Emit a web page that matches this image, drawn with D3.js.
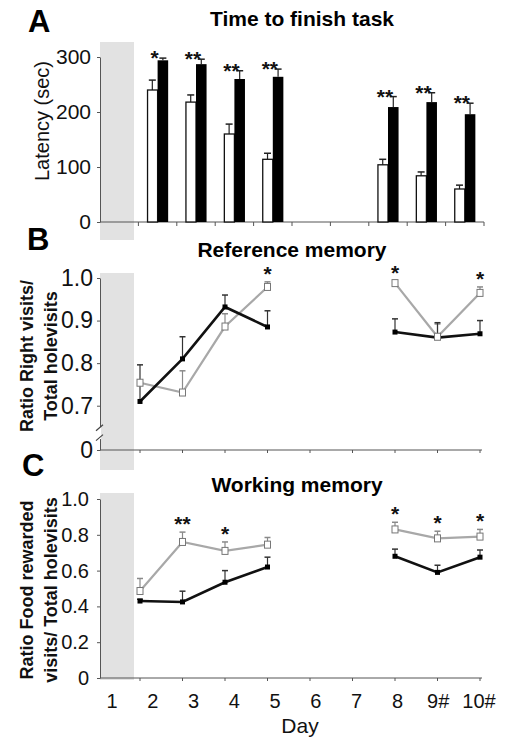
<!DOCTYPE html>
<html><head><meta charset="utf-8">
<script src="https://cdn.jsdelivr.net/npm/d3@7"></script>
<style>body{margin:0;background:#fff}svg{display:block;font-family:"Liberation Sans",Arial,sans-serif}</style>
</head><body><svg id="c" width="505" height="742"></svg>
<script>
// ---------- data ----------
const allDays = [1,2,3,4,5,6,7,8,9,10];
const dayLabels = ["1","2","3","4","5","6","7","8","9#","10#"];
const days = [2,3,4,5,8,9,10];

// Panel A: latency (sec)
const latWhite    = [240,218,160,114,104,84,60];
const latWhiteErr = [18,13,18,11,10,7,7];
const latBlack    = [294,287,260,264,209,218,196];
const latBlackErr = [4,9,15,14,19,17,20];
const sigA        = ["*","**","**","**","**","**","**"];
const ticksA      = [0,100,200,300];

// Panel B: reference memory
const refGray     = [0.754,0.731,0.886,0.979,0.988,0.862,0.965];
const refGrayErr  = [0,0.051,0.03,0.012,0.004,0.03,0.014];
const refBlack    = [0.71,0.81,0.932,0.885,0.873,0.86,0.869];
const refBlackErr = [0.086,0.052,0.028,0.038,0.031,0.035,0.031];
const sigB        = ["","","","*","*","","*"];
const ticksB      = [0,0.7,0.8,0.9,1.0];

// Panel C: working memory
const wmGray      = [0.486,0.76,0.71,0.745,0.83,0.78,0.79];
const wmGrayErr   = [0.07,0.055,0.05,0.04,0.04,0.04,0.04];
const wmBlack     = [0.43,0.425,0.535,0.62,0.68,0.59,0.675];
const wmBlackErr  = [0.01,0.06,0.065,0.055,0.04,0.04,0.04];
const sigC        = ["","**","*","","*","*","*"];
const ticksC      = [0,0.2,0.4,0.6,0.8,1.0];

// ---------- drawing ----------
const svg = d3.select("#c");
const SHADE = "#e2e2e2";
const fmt = v => v === 0 ? "0" : d3.format(".1f")(v);

function errBar(g, x, y0, y1, color, cap){
  g.append("line").attr("x1",x).attr("x2",x).attr("y1",y0).attr("y2",y1).attr("stroke",color).attr("stroke-width",1.2);
  g.append("line").attr("x1",x-cap).attr("x2",x+cap).attr("y1",y1).attr("y2",y1).attr("stroke",color).attr("stroke-width",1.5);
}

// ===== Panel A =====
const xA = d3.scaleBand().domain(allDays).range([100,484]).paddingInner(0.45).paddingOuter(0.225);
const xSub = d3.scaleBand().domain(["w","b"]).range([0, xA.bandwidth()]);
const yA = d3.scaleLinear().domain([0,300]).range([222,57]);

svg.append("rect").attr("x",xA.range()[0]).attr("y",42).attr("width",34).attr("height",198).attr("fill",SHADE);

const gA = svg.append("g");
const axA = gA.append("g").attr("transform","translate(100,0)")
  .call(d3.axisLeft(yA).tickValues(ticksA).tickSize(3).tickSizeOuter(0).tickPadding(6));
axA.selectAll("text").attr("font-size",21).attr("fill","#111");
axA.selectAll("line,path").attr("stroke","#555");
gA.append("line").attr("x1",100).attr("x2",484).attr("y1",yA(0)).attr("y2",yA(0)).attr("stroke","#555");
const gapA = (xA.step()-xA.bandwidth())/2;
gA.selectAll(".tA").data(allDays.slice(1)).join("line")
  .attr("x1",d=>xA(d)-gapA).attr("x2",d=>xA(d)-gapA)
  .attr("y1",yA(0)).attr("y2",yA(0)+4).attr("stroke","#555");
gA.append("line").attr("x1",484).attr("x2",484).attr("y1",yA(0)).attr("y2",yA(0)+4).attr("stroke","#555");

const barsData = days.map((d,i)=>({d, w:latWhite[i], we:latWhiteErr[i], b:latBlack[i], be:latBlackErr[i], s:sigA[i]}));
const grpA = gA.selectAll(".grp").data(barsData).join("g").attr("transform",d=>`translate(${xA(d.d)},0)`);
grpA.each(function(d){
  const g = d3.select(this);
  const bw = xSub.bandwidth();
  errBar(g, xSub("w")+bw/2, yA(d.w), yA(d.w+d.we), "#222", 3.5);
  errBar(g, xSub("b")+bw/2, yA(d.b), yA(d.b+d.be), "#222", 3.5);
  g.append("rect").attr("x",xSub("w")+0.5).attr("y",yA(d.w)).attr("width",bw-0.5).attr("height",yA(0)-yA(d.w))
    .attr("fill","#fff").attr("stroke","#111").attr("stroke-width",1.3);
  g.append("rect").attr("x",xSub("b")).attr("y",yA(d.b)).attr("width",bw).attr("height",yA(0)-yA(d.b))
    .attr("fill","#000");
  g.append("text").attr("x",xA.bandwidth()/2-3).attr("y",yA(Math.max(d.b+d.be,d.w+d.we))+7)
    .attr("text-anchor","middle").attr("font-size",21).attr("font-weight","bold").attr("fill","#111").text(d.s);
});

svg.append("text").attr("x",28).attr("y",32).attr("font-size",31).attr("font-weight","bold").text("A");
svg.append("text").attr("x",302).attr("y",26).attr("text-anchor","middle").attr("font-size",21).attr("font-weight","bold").text("Time to finish task");
svg.append("text").attr("transform","translate(49,121) rotate(-90)").attr("text-anchor","middle")
  .attr("font-size",20).attr("fill","#111").text("Latency (sec)");

// ===== shared line-panel x scale =====
const xL = d3.scaleLinear().domain([2,10]).range([140,480]);
const xLab = d3.scalePoint().domain(dayLabels).range([112,479]);

function linePanel(opt){
  const {y, ticks, gray, grayErr, black, blackErr, sig, fontSize, axisBottom, shadeTop, shadeBottom, labelPad} = opt;
  const g = svg.append("g");
  g.append("rect").attr("x",100).attr("y",shadeTop).attr("width",34).attr("height",shadeBottom-shadeTop).attr("fill",SHADE);
  const ax = g.append("g").attr("transform","translate(100,0)")
    .call(d3.axisLeft(y).tickValues(ticks).tickFormat(fmt).tickSize(3).tickSizeOuter(0).tickPadding(labelPad));
  ax.selectAll("text").attr("font-size",fontSize).attr("fill","#111");
  ax.selectAll("line,path").attr("stroke","#555");
  g.append("line").attr("x1",100).attr("x2",xL(10)+2).attr("y1",axisBottom).attr("y2",axisBottom).attr("stroke","#555");
  g.selectAll(".tk").data(d3.range(2,11)).join("line")
    .attr("x1",d=>xL(d)).attr("x2",d=>xL(d)).attr("y1",axisBottom).attr("y2",axisBottom+3).attr("stroke","#555");
  const grayPts = days.map((d,i)=>({d, v:gray[i], e:grayErr[i]}));
  const blackPts = days.map((d,i)=>({d, v:black[i], e:blackErr[i]}));
  const segs = pts => [pts.filter(p=>p.d<=5), pts.filter(p=>p.d>=8)];
  const line = d3.line().x(p=>xL(p.d)).y(p=>y(p.v));
  grayPts.forEach(p=>{ if(p.e>0) errBar(g, xL(p.d), y(p.v), y(p.v+p.e), "#8a8a8a", 3); });
  blackPts.forEach(p=>{ if(p.e>0) errBar(g, xL(p.d), y(p.v), y(p.v+p.e), "#333", 3); });
  segs(grayPts).forEach(s=>g.append("path").attr("d",line(s)).attr("fill","none").attr("stroke","#a8a8a8").attr("stroke-width",2.2));
  segs(blackPts).forEach(s=>g.append("path").attr("d",line(s)).attr("fill","none").attr("stroke","#111").attr("stroke-width",2.6));
  g.selectAll(".bm").data(blackPts).join("rect")
    .attr("x",p=>xL(p.d)-2.5).attr("y",p=>y(p.v)-2.5).attr("width",5).attr("height",5).attr("fill","#000");
  g.selectAll(".gm").data(grayPts).join("rect")
    .attr("x",p=>xL(p.d)-3).attr("y",p=>y(p.v)-3.5).attr("width",6).attr("height",7)
    .attr("fill","#fff").attr("stroke","#777").attr("stroke-width",1);
  g.selectAll(".st").data(days.map((d,i)=>({d,s:sig[i],top:Math.max(gray[i]+grayErr[i], black[i]+blackErr[i])}))).join("text")
    .attr("x",p=>xL(p.d)).attr("y",p=>y(p.top)-1)
    .attr("text-anchor","middle").attr("font-size",21).attr("font-weight","bold").attr("fill","#111").text(p=>p.s);
  return g;
}

// ===== Panel B =====
const yB = d3.scaleLinear().domain([0,0.65,1.0]).range([450,427,278]);
const gB = linePanel({y:yB, ticks:ticksB, gray:refGray, grayErr:refGrayErr, black:refBlack, blackErr:refBlackErr,
  sig:sigB, fontSize:23, axisBottom:450, shadeTop:273, shadeBottom:470, labelPad:4});
gB.append("rect").attr("x",99).attr("y",yB(0.62)-1).attr("width",2).attr("height",12).attr("fill","#fff");
[0.63,0.35].forEach(v=>{
  gB.append("line").attr("x1",96).attr("x2",103).attr("y1",yB(v)+3).attr("y2",yB(v)-3).attr("stroke","#444").attr("stroke-width",1.2);
});
svg.append("text").attr("x",27).attr("y",250).attr("font-size",31).attr("font-weight","bold").text("B");
svg.append("text").attr("x",292).attr("y",257).attr("text-anchor","middle").attr("font-size",21).attr("font-weight","bold").text("Reference memory");
const ylB = svg.append("text").attr("transform","translate(0,356) rotate(-90)").attr("text-anchor","middle")
  .attr("font-size",18).attr("font-weight","bold").attr("fill","#111");
ylB.append("tspan").attr("x",0).attr("y",33).text("Ratio Right visits/");
ylB.append("tspan").attr("x",0).attr("y",57).text("Total holevisits");

// ===== Panel C =====
const yC = d3.scaleLinear().domain([0,1]).range([678,499]);
linePanel({y:yC, ticks:ticksC, gray:wmGray, grayErr:wmGrayErr, black:wmBlack, blackErr:wmBlackErr,
  sig:sigC, fontSize:20, axisBottom:678, shadeTop:493, shadeBottom:680, labelPad:8});
svg.append("text").attr("x",22).attr("y",476).attr("font-size",31).attr("font-weight","bold").text("C");
svg.append("text").attr("x",297).attr("y",492).attr("text-anchor","middle").attr("font-size",21).attr("font-weight","bold").text("Working memory");
const ylC = svg.append("text").attr("transform","translate(0,590) rotate(-90)").attr("text-anchor","middle")
  .attr("font-size",18).attr("font-weight","bold").attr("fill","#111");
ylC.append("tspan").attr("x",0).attr("y",33).text("Ratio Food rewarded");
ylC.append("tspan").attr("x",0).attr("y",57).text("visits/ Total holevisits");

svg.append("g").selectAll("text").data(dayLabels).join("text")
  .attr("x",d=>xLab(d)).attr("y",708).attr("text-anchor","middle").attr("font-size",20).attr("fill","#111").text(d=>d);
svg.append("text").attr("x",300).attr("y",733).attr("text-anchor","middle").attr("font-size",21).attr("fill","#111").text("Day");
</script></body></html>
